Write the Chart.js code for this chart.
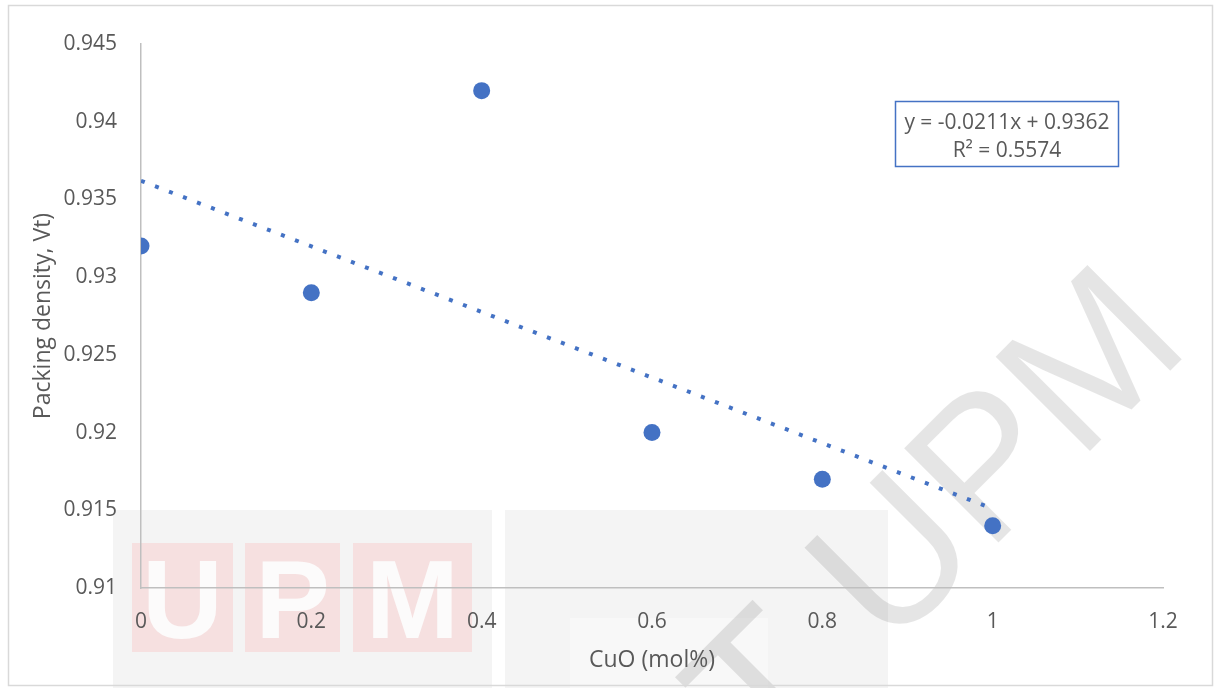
<!DOCTYPE html>
<html>
<head>
<meta charset="utf-8">
<script src="https://cdn.jsdelivr.net/npm/chart.js@4.4.1/dist/chart.umd.min.js"></script>
<style>
  html, body { margin: 0; padding: 0; background: #fff; }
  #wrap { width: 1219px; height: 688px; }
</style>
</head>
<body>
<div id="wrap"><canvas id="packing-chart" width="1219" height="688"></canvas></div>
<script>
const cuoContent = [0, 0.2, 0.4, 0.6, 0.8, 1]
const packingDensity = [0.932, 0.929, 0.942, 0.920, 0.917, 0.914]
const xTickValues = [0, 0.2, 0.4, 0.6, 0.8, 1, 1.2]
const yTickValues = [0.91, 0.915, 0.92, 0.925, 0.93, 0.935, 0.94, 0.945]
// linear trendline as printed on the chart
const trendSlope = -0.0211
const trendIntercept = 0.9362
const trendR2 = 0.5574
const trendRange = [0, 1]

const textColor = '#595959'
const fontFamily = "'Open Sans', 'Noto Sans', sans-serif"
const markerBlue = '#4472C4'

// faded watermark behind the plot
const watermark = {
    id: 'watermark',
    beforeDraw(chart) {
        const ctx = chart.ctx
        ctx.save()
        ctx.fillStyle = '#ffffff'
        ctx.fillRect(0, 0, chart.width, chart.height)

        // grey backing panels of the logo
        ctx.fillStyle = '#f4f4f4'
        ctx.fillRect(113, 510, 379, 178)
        ctx.fillRect(505, 510, 383, 178)
        ctx.fillStyle = 'rgba(255,255,255,0.4)'
        ctx.fillRect(570, 618, 198, 70)

        // pink letter blocks
        const blocks = [['U', 132, 101], ['P', 245, 95], ['M', 353, 119]]
        ctx.font = "bold 112px 'Liberation Sans', Arial, sans-serif"
        ctx.textAlign = 'center'
        ctx.textBaseline = 'alphabetic'
        blocks.forEach(([letter, left, w]) => {
            ctx.fillStyle = '#f6e0e0'
            ctx.fillRect(left, 543, w, 109)
            ctx.fillStyle = '#fcfbfb'
            ctx.fillText(letter, left + w / 2, 638)
        })

        // big diagonal text
        ctx.translate(1193, 348)
        ctx.rotate(-Math.PI / 4)
        ctx.font = "194px 'Liberation Sans', Arial, sans-serif"
        ctx.textAlign = 'right'
        ctx.fillStyle = 'rgba(0,0,0,0.1)'
        ctx.fillText('COPYRIGHT UPM', 0, 0)
        ctx.restore()
    }
}

// outer frame and the trendline equation box
const frameAndLabel = {
    id: 'frameAndLabel',
    afterDraw(chart) {
        const ctx = chart.ctx
        ctx.save()
        ctx.strokeStyle = '#d9d9d9'
        ctx.lineWidth = 1.5
        ctx.strokeRect(8.5, 5.5, 1204, 680)

        ctx.fillStyle = '#ffffff'
        ctx.fillRect(895, 101, 224, 66)
        ctx.strokeStyle = markerBlue
        ctx.lineWidth = 1.5
        ctx.strokeRect(895.5, 101.5, 223, 65)

        ctx.fillStyle = textColor
        ctx.font = '21px ' + fontFamily
        ctx.textAlign = 'center'
        ctx.textBaseline = 'middle'
        ctx.fillText('y = ' + trendSlope + 'x + ' + trendIntercept, 1007, 123)
        ctx.fillText('R\u00b2 = ' + trendR2, 1007, 151)
        ctx.restore()
    }
}

const points = cuoContent.map((x, i) => ({ x: x, y: packingDensity[i] }))
const trendPoints = trendRange.map(x => ({ x: x, y: trendIntercept + trendSlope * x }))

const tickFont = { family: fontFamily, size: 21 }
const titleFont = { family: fontFamily, size: 23 }

new Chart(document.getElementById('packing-chart'), {
    type: 'scatter',
    data: {
        datasets: [{
            label: 'Packing density',
            data: points,
            pointRadius: 8.5,
            pointBackgroundColor: markerBlue,
            pointBorderWidth: 0,
            showLine: false
        }, {
            label: 'Linear trend',
            data: trendPoints,
            showLine: true,
            pointRadius: 0,
            borderColor: markerBlue,
            borderWidth: 4,
            borderDash: [4, 11],
            borderCapStyle: 'butt'
        }]
    },
    options: {
        responsive: false,
        animation: false,
        layout: { padding: { top: 44, right: 56, bottom: 0, left: 0 } },
        plugins: {
            legend: { display: false },
            tooltip: { enabled: false }
        },
        scales: {
            x: {
                type: 'linear',
                min: 0,
                max: 1.2,
                afterBuildTicks: scale => { scale.ticks = xTickValues.map(v => ({ value: v })) },
                afterFit: scale => { scale.height = 100 },
                grid: { display: false, drawTicks: false },
                border: { display: true, color: '#bfbfbf', width: 1.5 },
                ticks: {
                    padding: 21,
                    color: textColor,
                    font: tickFont,
                    callback: v => String(parseFloat(v.toFixed(1)))
                },
                title: {
                    display: true,
                    text: 'CuO (mol%)',
                    color: textColor,
                    font: titleFont,
                    padding: { top: 0, bottom: 14 }
                }
            },
            y: {
                type: 'linear',
                min: 0.91,
                max: 0.945,
                afterBuildTicks: scale => { scale.ticks = yTickValues.map(v => ({ value: v })) },
                afterFit: scale => { scale.width = 141 },
                grid: { display: false, drawTicks: false },
                border: { display: true, color: '#bfbfbf', width: 1.5 },
                ticks: {
                    padding: 24,
                    color: textColor,
                    font: tickFont,
                    callback: v => String(parseFloat(v.toFixed(3)))
                },
                title: {
                    display: true,
                    text: 'Packing density, Vt)',
                    color: textColor,
                    font: titleFont,
                    padding: { top: 30, bottom: 0 }
                }
            }
        }
    },
    plugins: [watermark, frameAndLabel]
});
</script>
</body>
</html>
